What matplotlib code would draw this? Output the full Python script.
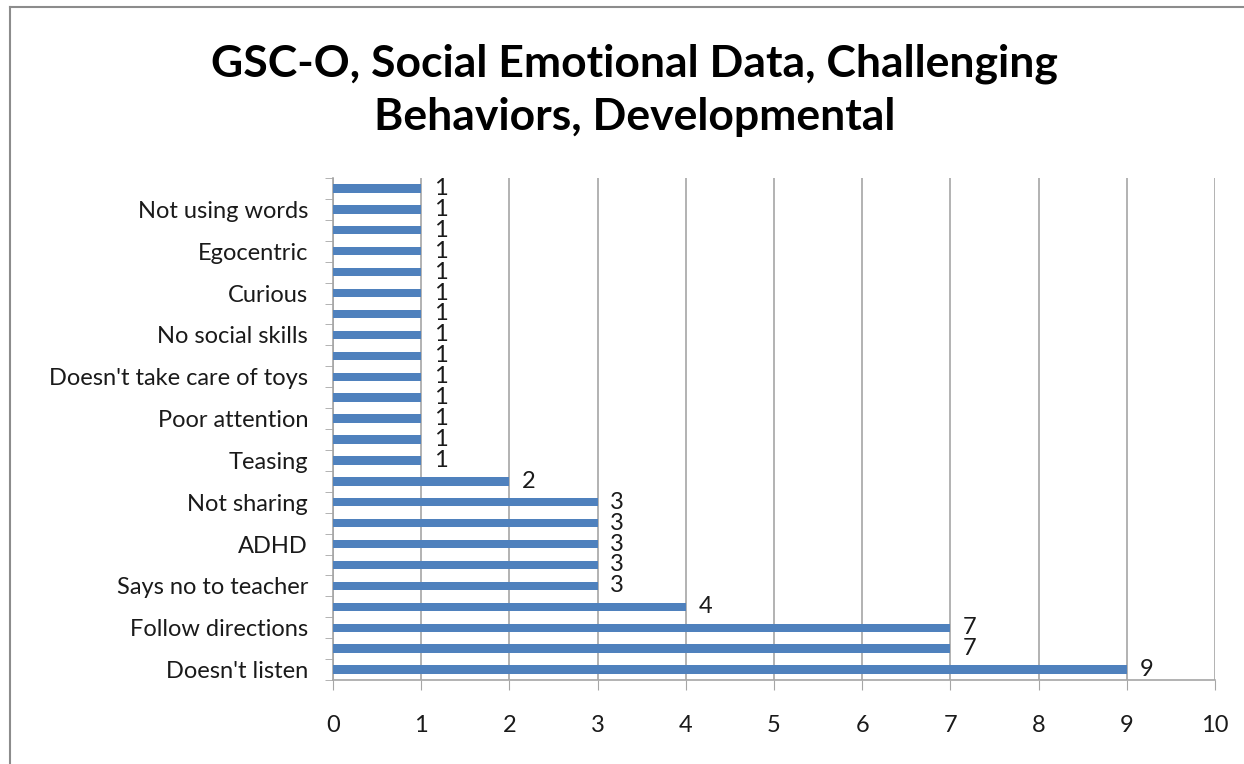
import matplotlib
matplotlib.use("Agg")
import matplotlib.pyplot as plt
from matplotlib.lines import Line2D

# Categories listed bottom to top; unnamed rows carry no printed label
categories = [
    "Doesn't listen", "", "Follow directions", "", "Says no to teacher", "",
    "ADHD", "", "Not sharing", "", "Teasing", "", "Poor attention", "",
    "Doesn't take care of toys", "", "No social skills", "", "Curious", "",
    "Egocentric", "", "Not using words", "",
]
counts = [9, 7, 7, 4, 3, 3, 3, 3, 3, 2, 1, 1, 1, 1, 1, 1, 1, 1, 1, 1, 1, 1, 1, 1]
x_ticks = list(range(0, 11))

title = "GSC-O, Social Emotional Data, Challenging\nBehaviors, Developmental"

bar_color = "#4F81BD"
grid_color = "#A6A6A6"
text_color = "#1a1a1a"
font = ["Lato", "DejaVu Sans"]
label_size = 17

fig = plt.figure(figsize=(12.44, 7.64), dpi=100)
fig.patch.set_facecolor("white")

ax = fig.add_axes([0.2677, 0.1099, 0.9767 - 0.2677, 0.767 - 0.1099])

ypos = list(range(len(categories)))
ax.barh(ypos, counts, height=0.4, color=bar_color, zorder=3)

for y, v in zip(ypos, counts):
    ax.annotate(str(v), xy=(v, y), xytext=(9, 0), textcoords="offset points",
                ha="left", va="center", fontsize=label_size, family=font,
                color=text_color, zorder=4)

ax.set_xlim(0, 10)
ax.set_ylim(-0.5, len(categories) - 0.5)
ax.set_xticks(x_ticks)
ax.set_xticklabels([str(t) for t in x_ticks], fontsize=label_size, family=font,
                   color=text_color)
ax.tick_params(axis="x", length=7, color=grid_color, pad=18)

# Category labels at centres, tick marks between categories
ax.set_yticks(ypos)
ax.set_yticklabels(categories, fontsize=label_size, family=font, color=text_color)
ax.tick_params(axis="y", which="major", length=0, pad=18)
ax.set_yticks([i - 0.5 for i in range(len(categories) + 1)], minor=True)
ax.tick_params(axis="y", which="minor", length=6, color=grid_color)

ax.grid(axis="x", color=grid_color, linewidth=1.2, zorder=0)
for side in ("top", "right"):
    ax.spines[side].set_visible(False)
for side in ("left", "bottom"):
    ax.spines[side].set_color(grid_color)
    ax.spines[side].set_linewidth(1.2)

fig.text(0.51, 0.882, title, ha="center", va="center", fontsize=32,
         fontweight="bold", family=font, color="black", linespacing=1.4)

# Chart-area frame along the top and left edges
fig.add_artist(Line2D([0.008, 1.0], [0.991, 0.991], transform=fig.transFigure,
                      color="#8C8C8C", linewidth=1.5))
fig.add_artist(Line2D([0.008, 0.008], [0.0, 0.991], transform=fig.transFigure,
                      color="#8C8C8C", linewidth=1.5))

fig.savefig("out.png", dpi=100, facecolor="white")
